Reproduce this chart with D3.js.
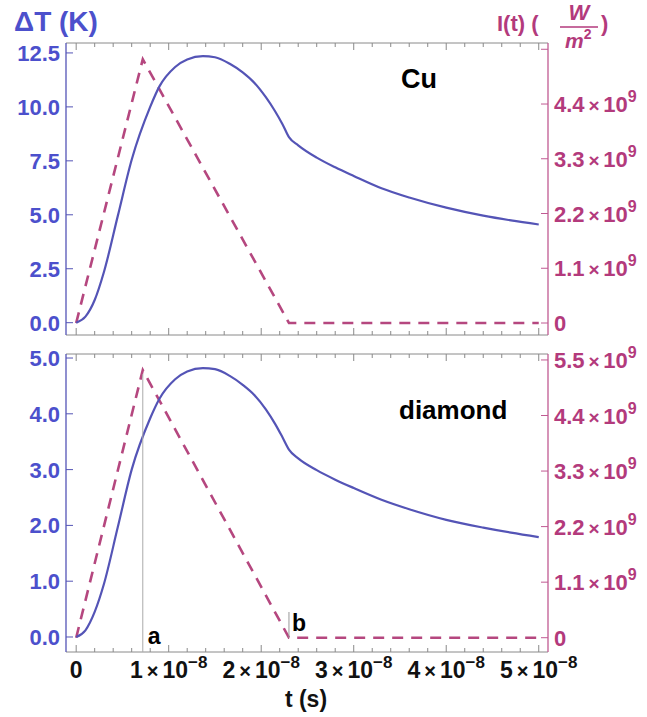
<!DOCTYPE html>
<html>
<head>
<meta charset="utf-8">
<script src="https://cdn.jsdelivr.net/npm/d3@7"></script>
<style>
  body { margin: 0; background: #fff; }
  svg text { font-family: "Liberation Sans", Arial, sans-serif; font-weight: bold; }
</style>
</head>
<body>
<svg id="chart" width="647" height="717"></svg>
<script>
// time samples, units of 1e-8 s
const tSample = [0, 0.1, 0.2, 0.3, 0.45, 0.6, 0.8, 0.9, 1.07, 1.2, 1.37, 1.5, 1.66, 1.8, 1.93, 2.05, 2.15, 2.23, 2.3, 2.4, 2.6, 2.8, 3.0, 3.3, 3.6, 4.0, 4.4, 4.7, 5.0];
const dTCu = [0, 0.28, 1.05, 2.35, 4.95, 7.55, 10.0, 10.95, 11.85, 12.2, 12.35, 12.3, 12.0, 11.6, 11.1, 10.45, 9.8, 9.2, 8.6, 8.22, 7.65, 7.2, 6.8, 6.23, 5.8, 5.33, 4.96, 4.74, 4.55];
const dTDiamond = [0, 0.12, 0.45, 0.95, 1.97, 3.0, 3.92, 4.27, 4.62, 4.76, 4.82, 4.8, 4.68, 4.52, 4.33, 4.08, 3.82, 3.58, 3.36, 3.2, 2.99, 2.82, 2.67, 2.46, 2.29, 2.1, 1.96, 1.87, 1.79];

// laser pulse I(t), units of 1e9 W/m^2
const pulseT = [0, 0.72, 2.3, 5.0];
const pulseI = [0, 5.3, 0, 0];

const xTicks = [0, 1, 2, 3, 4, 5];
const cuTicks = [0, 2.5, 5, 7.5, 10, 12.5];
const cuIntTicks = [0, 1.1, 2.2, 3.3, 4.4, 5.5];
const diaTicks = [0, 1, 2, 3, 4, 5];
const diaIntTicks = [0, 1.1, 2.2, 3.3, 4.4, 5.5];

const BLUE = '#5454b6', BLUE_TXT = '#4c50cc', MAG = '#b5477f', MAG_AX = '#c05a92', MAG_TXT = '#b33a7c', FRAME = '#8a8a8a';

const svg = d3.select('#chart');
const L = 66, R = 548;
const x = d3.scaleLinear().domain([-0.11, 5.1]).range([L, R]);

const panels = [
  { name: 'Cu', top: 43, bottom: 335, yDom: [-0.57, 12.96], iDom: [-0.241, 5.626],
    dT: dTCu, ticks: cuTicks, iTicks: cuIntTicks, label: [401, 88], labelSize: 27 },
  { name: 'diamond', top: 354, bottom: 652, yDom: [-0.269, 5.072], iDom: [-0.283, 5.618],
    dT: dTDiamond, ticks: diaTicks, iTicks: diaIntTicks, label: [399, 419], labelSize: 26 }
];

function xTickMarks(g, yLine, dir) {
  const minor = d3.range(0, 51, 2).map(d => d / 10).filter(d => !xTicks.includes(d));
  g.selectAll(null).data(xTicks).join('line')
    .attr('x1', d => x(d)).attr('x2', d => x(d))
    .attr('y1', yLine).attr('y2', yLine + dir * 7)
    .attr('stroke', FRAME).attr('stroke-width', 1);
  g.selectAll(null).data(minor).join('line')
    .attr('x1', d => x(d)).attr('x2', d => x(d))
    .attr('y1', yLine).attr('y2', yLine + dir * 4)
    .attr('stroke', FRAME).attr('stroke-width', 1);
}

function sciLabel(sel, mant, exp, size) {
  sel.append('tspan').text(mant);
  sel.append('tspan').text('\u2009×\u2009').attr('font-size', size - 3);
  sel.append('tspan').text('10');
  sel.append('tspan').text(exp).attr('font-size', size - 6).attr('dy', -10);
}

panels.forEach((p, i) => {
  const y = d3.scaleLinear().domain(p.yDom).range([p.bottom, p.top]);
  const yi = d3.scaleLinear().domain(p.iDom).range([p.bottom, p.top]);
  const g = svg.append('g');

  // frame top/bottom
  g.append('line').attr('x1', L).attr('x2', R).attr('y1', p.top).attr('y2', p.top).attr('stroke', FRAME);
  g.append('line').attr('x1', L).attr('x2', R).attr('y1', p.bottom).attr('y2', p.bottom).attr('stroke', FRAME);
  xTickMarks(g, p.top, 1);
  xTickMarks(g, p.bottom, -1);

  // left axis
  g.append('line').attr('x1', L).attr('x2', L).attr('y1', p.top).attr('y2', p.bottom).attr('stroke', BLUE).attr('stroke-width', 1.3);
  g.selectAll(null).data(p.ticks).join('line')
    .attr('x1', L).attr('x2', L + 7).attr('y1', d => y(d)).attr('y2', d => y(d))
    .attr('stroke', BLUE);
  g.selectAll(null).data(p.ticks).join('text')
    .attr('x', L - 6).attr('y', d => y(d) + 8)
    .attr('text-anchor', 'end').attr('font-size', 22).attr('fill', BLUE_TXT)
    .text(d => d3.format('.1f')(d));

  // right axis
  g.append('line').attr('x1', R).attr('x2', R).attr('y1', p.top).attr('y2', p.bottom).attr('stroke', MAG_AX).attr('stroke-width', 1.3);
  g.selectAll(null).data(p.iTicks).join('line')
    .attr('x1', R - 7).attr('x2', R).attr('y1', d => yi(d)).attr('y2', d => yi(d))
    .attr('stroke', MAG_AX);
  p.iTicks.forEach(d => {
    if (i === 0 && d === 5.5) return;
    const t = g.append('text').attr('x', R + 6).attr('y', yi(d) + 8)
      .attr('font-size', 22).attr('fill', MAG_TXT);
    if (d === 0) t.text('0'); else sciLabel(t, d.toFixed(1), '9', 22);
  });

  // pulse
  const pulse = pulseT.map((t, k) => [t, pulseI[k]]);
  g.append('path').datum(pulse)
    .attr('fill', 'none').attr('stroke', MAG).attr('stroke-width', 2.6)
    .attr('stroke-dasharray', '11,8')
    .attr('d', d3.line().x(d => x(d[0])).y(d => yi(d[1])));

  // temperature
  const temp = tSample.map((t, k) => [t, p.dT[k]]);
  g.append('path').datum(temp)
    .attr('fill', 'none').attr('stroke', BLUE).attr('stroke-width', 2.2)
    .attr('d', d3.line().x(d => x(d[0])).y(d => y(d[1])).curve(d3.curveMonotoneX));

  g.append('text').attr('x', p.label[0]).attr('y', p.label[1])
    .attr('font-size', p.labelSize).attr('fill', '#000').text(p.name);

  if (i === 1) {
    // markers a and b
    g.append('line').attr('x1', x(pulseT[1])).attr('x2', x(pulseT[1]))
      .attr('y1', yi(pulseI[1]) + 4).attr('y2', p.bottom).attr('stroke', '#aaa').attr('stroke-width', 1);
    g.append('text').attr('x', x(pulseT[1]) + 5).attr('y', 644).attr('font-size', 23).text('a');
    g.append('line').attr('x1', x(pulseT[2])).attr('x2', x(pulseT[2]))
      .attr('y1', 612).attr('y2', yi(0)).attr('stroke', '#999').attr('stroke-width', 1);
    g.append('text').attr('x', x(pulseT[2]) + 3).attr('y', 631).attr('font-size', 23).text('b');

    xTicks.forEach(d => {
      const t = g.append('text').attr('x', x(d)).attr('y', 678).attr('text-anchor', 'middle')
        .attr('font-size', 23).attr('fill', '#111');
      if (d === 0) t.text('0'); else sciLabel(t, String(d), '\u22128', 23);
    });
  }
});

// axis titles
svg.append('text').attr('x', 14).attr('y', 31).attr('font-size', 28).attr('fill', BLUE_TXT).text('\u0394T (K)');

const it = svg.append('g').attr('fill', MAG_TXT);
it.append('text').attr('x', 497).attr('y', 31).attr('font-size', 22).text('I(t) (');
it.append('text').attr('x', 579).attr('y', 20).attr('font-size', 22).attr('font-style', 'italic').attr('text-anchor', 'middle').text('W');
it.append('line').attr('x1', 560).attr('x2', 598).attr('y1', 27).attr('y2', 27).attr('stroke', MAG_TXT).attr('stroke-width', 1.6);
const m = it.append('text').attr('x', 565).attr('y', 48).attr('font-size', 21).attr('font-style', 'italic');
m.append('tspan').text('m');
m.append('tspan').text('2').attr('font-size', 14).attr('dy', -9).attr('font-style', 'normal');
it.append('text').attr('x', 601).attr('y', 31).attr('font-size', 22).text(')');

svg.append('text').attr('x', 306).attr('y', 707).attr('text-anchor', 'middle').attr('font-size', 23).attr('fill', '#111').text('t (s)');
</script>
</body>
</html>
